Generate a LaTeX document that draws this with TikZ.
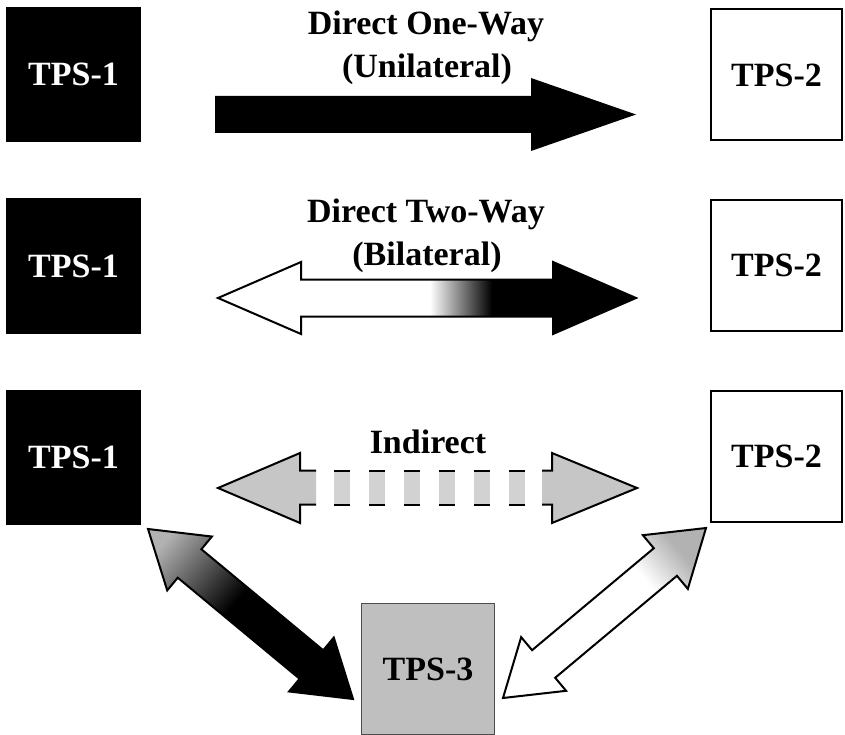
\documentclass[tikz,border=0pt]{standalone}
\usepackage{fontspec}
\setmainfont{Liberation Serif}
\usetikzlibrary{calc}

\pgfdeclareverticalshading{darkfade}{100bp}{color(0bp)=(black); color(55bp)=(black); color(80bp)=(gray!60); color(100bp)=(gray!60)}
\pgfdeclareverticalshading{lightfade}{100bp}{color(0bp)=(white); color(64bp)=(white); color(76bp)=(gray!60); color(100bp)=(gray!60)}

\newcommand{\dblarrow}[6]{%
  \coordinate (p) at ($(#2)!#4pt!(#3)$);
  \coordinate (q) at ($(#3)!#4pt!(#2)$);
  \path[#1] (#2) -- ($(p)!#5pt!90:(#3)$) -- ($(p)!#6pt!90:(#3)$)
    -- ($(q)!#6pt!-90:(#2)$) -- ($(q)!#5pt!-90:(#2)$) -- (#3)
    -- ($(q)!#5pt!90:(#2)$) -- ($(q)!#6pt!90:(#2)$)
    -- ($(p)!#6pt!-90:(#3)$) -- ($(p)!#5pt!-90:(#3)$) -- cycle;
}

\begin{document}
\begin{tikzpicture}[x=1pt, y=-1pt]
\useasboundingbox (0,0) rectangle (845,735);
\begin{scope}[every node/.style = {rectangle, inner sep=0pt, font=\fontsize{34}{40}\selectfont\bfseries},
  dark/.style = {fill=black, text=white, minimum width=135pt, minimum height=135pt},
  light/.style = {draw, line width=2pt, fill=white, minimum width=131pt, minimum height=131pt},
  middle/.style = {draw=black!70, line width=1.5pt, fill=gray!50, minimum width=133pt, minimum height=131pt}]
\node[dark] (left1) at (73.5, 74.5) {TPS-1};
\node[dark] (left2) at (73.5, 266) {TPS-1};
\node[dark] (left3) at (73.5, 457) {TPS-1};
\node[light] (right1) at (776.5, 75) {TPS-2};
\node[light] (right2) at (776.5, 265.5) {TPS-2};
\node[light] (right3) at (776.5, 456.5) {TPS-2};
\node[middle] (bottom) at (428, 669) {TPS-3};
\end{scope}
\begin{scope}[every node/.style = {anchor=base, inner sep=0pt, font=\fontsize{34}{40}\selectfont\bfseries}]
\node (oneway) at (426, 35) {Direct One-Way};
\node (unilat) at (427, 78) {(Unilateral)};
\node (twoway) at (426, 223) {Direct Two-Way};
\node (bilat) at (427, 265) {(Bilateral)};
\node (indirect) at (428, 453) {Indirect};
\end{scope}
\coordinate (unifrom) at (215, 114.5);
\coordinate (unito) at (636, 114.5);
\coordinate (bifrom) at (218, 298);
\coordinate (bito) at (636, 298);
\coordinate (infrom) at (218, 488);
\coordinate (into) at (637, 488);
\coordinate (ltop) at (148, 529);
\coordinate (lbot) at (353, 699);
\coordinate (rtop) at (706, 528);
\coordinate (rbot) at (503, 698);
\begin{scope}[line width=2pt, line join=miter]
\fill (unito) -- ++(-105, -36.5) -- ++(0, 18) -- ($(unifrom)+(0,-18.5)$)
  -- ++(0, 37) -- ($(unito)+(-105, 18.5)$) -- ++(0, 18) -- cycle;
\begin{scope}
\dblarrow{clip}{bifrom}{bito}{83}{36}{18.5}
\fill[white] (200, 250) rectangle (430, 345);
\shade[left color=white, right color=black] (430, 250) rectangle (492, 345);
\fill[black] (492, 250) rectangle (650, 345);
\end{scope}
\dblarrow{draw}{bifrom}{bito}{83}{36}{18.5}
\fill[gray!45] (infrom) -- (300, 453) -- (300, 470.5) -- (316, 470.5) -- (316, 504.5) -- (300, 504.5) -- (300, 523) -- cycle;
\draw (316, 470.5) -- (300, 470.5) -- (300, 453) -- (infrom) -- (300, 523) -- (300, 504.5) -- (316, 504.5);
\fill[gray!45] (into) -- (552, 453) -- (552, 470.5) -- (542, 470.5) -- (542, 504.5) -- (552, 504.5) -- (552, 523) -- cycle;
\draw (542, 470.5) -- (552, 470.5) -- (552, 453) -- (into) -- (552, 523) -- (552, 504.5) -- (542, 504.5);
\foreach \x in {334, 369, 404, 439, 474, 509} {
  \fill[gray!35] (\x, 470.5) rectangle ++(16, 34);
  \draw (\x, 470.5) -- ++(16, 0) (\x, 504.5) -- ++(16, 0);
}
\dblarrow{draw, shade, shading=darkfade, shading angle=50}{ltop}{lbot}{54}{35}{18.5}
\dblarrow{draw, shade, shading=lightfade, shading angle=-50}{rtop}{rbot}{53}{35}{18}
\end{scope}
\end{tikzpicture}
\end{document}
